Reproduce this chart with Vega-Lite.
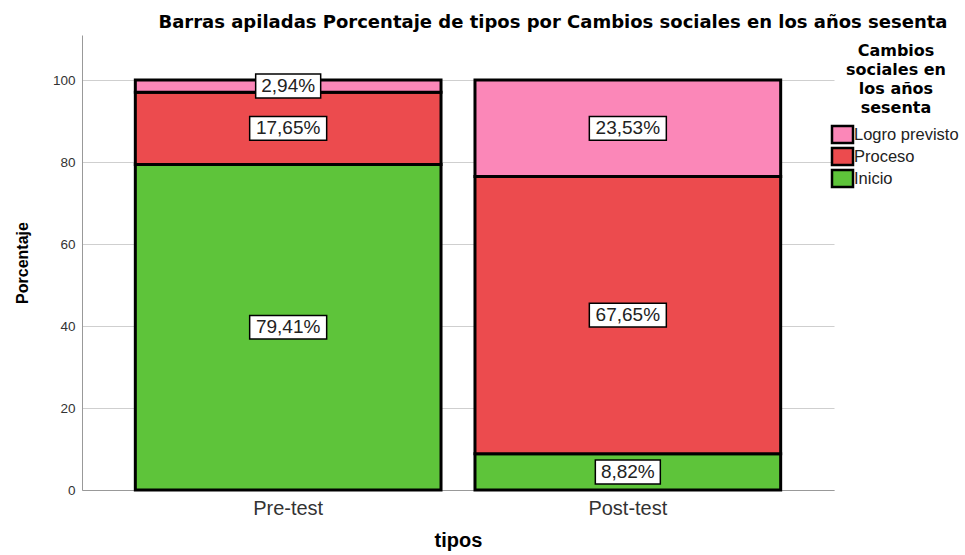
{
  "$schema": "https://vega.github.io/schema/vega-lite/v6.json",
  "width": 752,
  "height": 455,
  "autosize": {"type": "pad"},
  "padding": {"left": 14, "top": 14, "right": 5, "bottom": 5},
  "background": "white",
  "config": {
    "font": "Liberation Sans",
    "view": {"stroke": null}
  },
  "title": {
    "text": "Barras apiladas Porcentaje de tipos por Cambios sociales en los años sesenta",
    "fontSize": 18,
    "font": "DejaVu Sans",
    "fontWeight": "bold",
    "color": "black",
    "anchor": "start",
    "dx": 144,
    "offset": 3
  },
  "data": {
    "values": [
      {"tipos": "Pre-test", "nivel": "Inicio", "porcentaje": 79.41},
      {"tipos": "Pre-test", "nivel": "Proceso", "porcentaje": 17.65},
      {"tipos": "Pre-test", "nivel": "Logro previsto", "porcentaje": 2.94},
      {"tipos": "Post-test", "nivel": "Inicio", "porcentaje": 8.82},
      {"tipos": "Post-test", "nivel": "Proceso", "porcentaje": 67.65},
      {"tipos": "Post-test", "nivel": "Logro previsto", "porcentaje": 23.53}
    ]
  },
  "transform": [
    {"calculate": "indexof(['Inicio','Proceso','Logro previsto'], datum.nivel)", "as": "orden"},
    {"stack": "porcentaje", "groupby": ["tipos"], "sort": [{"field": "orden", "order": "ascending"}], "as": ["y0", "y1"]},
    {"calculate": "(datum.y0 + datum.y1) / 2", "as": "ymid"},
    {"calculate": "replace(format(datum.porcentaje, '.2f'), '.', ',') + '%'", "as": "etiqueta"}
  ],
  "encoding": {
    "x": {
      "field": "tipos",
      "type": "nominal",
      "sort": ["Pre-test", "Post-test"],
      "scale": {"paddingInner": 0.1, "paddingOuter": 0.157},
      "axis": {
        "title": "tipos",
        "titleFontSize": 20,
        "titleFontWeight": "bold",
        "titleColor": "black",
        "titlePadding": 12,
        "labelFontSize": 20,
        "labelColor": "#333",
        "labelAngle": 0,
        "labelPadding": 8,
        "ticks": false,
        "domainColor": "#999",
        "domainWidth": 1
      }
    }
  },
  "layer": [
    {
      "mark": {"type": "bar", "stroke": "black", "strokeWidth": 3},
      "encoding": {
        "y": {
          "field": "y0",
          "type": "quantitative",
          "scale": {"domain": [0, 111], "nice": false},
          "axis": {
            "title": "Porcentaje",
            "titleFontSize": 16,
            "titleFontWeight": "bold",
            "titleColor": "black",
            "titlePadding": 22,
            "values": [0, 20, 40, 60, 80, 100],
            "labelFontSize": 13.5,
            "labelColor": "#333",
            "labelPadding": 7,
            "ticks": false,
            "grid": true,
            "gridColor": "#cfcfcf",
            "domainColor": "#999"
          }
        },
        "y2": {"field": "y1"},
        "color": {
          "field": "nivel",
          "type": "nominal",
          "scale": {
            "domain": ["Logro previsto", "Proceso", "Inicio"],
            "range": ["#FB87B8", "#EC4B4E", "#5EC43A"]
          },
          "legend": {
            "orient": "none",
            "legendX": 752,
            "legendY": 8,
            "title": ["Cambios", "sociales en", "los años", "sesenta"],
            "titleFont": "DejaVu Sans",
            "titleFontSize": 16,
            "titleFontWeight": "bold",
            "titleColor": "black",
            "titleAlign": "center",
            "titleAnchor": "middle",
            "titleLineHeight": 19,
            "titlePadding": 10,
            "labelFontSize": 16.5,
            "labelColor": "#222",
            "labelOffset": 3,
            "symbolType": "M-1.485,-1.2H1.485V1.2H-1.485Z",
            "symbolSize": 200,
            "symbolStrokeColor": "black",
            "symbolStrokeWidth": 2.5,
            "symbolOpacity": 1,
            "rowPadding": -7
          }
        }
      }
    },
    {
      "transform": [{"filter": "datum.porcentaje >= 10"}],
      "mark": {"type": "point", "shape": "M-1,-0.308H1V0.308H-1Z", "size": 5929, "filled": true, "fill": "white", "stroke": "black", "strokeWidth": 1.5, "opacity": 1},
      "encoding": {"y": {"field": "ymid", "type": "quantitative"}}
    },
    {
      "transform": [{"filter": "datum.porcentaje < 10"}],
      "mark": {"type": "point", "shape": "M-1,-0.369H1V0.369H-1Z", "size": 4225, "filled": true, "fill": "white", "stroke": "black", "strokeWidth": 1.5, "opacity": 1},
      "encoding": {"y": {"field": "ymid", "type": "quantitative"}}
    },
    {
      "mark": {"type": "text", "fontSize": 19, "font": "Liberation Sans", "color": "#222", "baseline": "middle", "align": "center"},
      "encoding": {
        "y": {"field": "ymid", "type": "quantitative"},
        "text": {"field": "etiqueta"}
      }
    }
  ]
}
